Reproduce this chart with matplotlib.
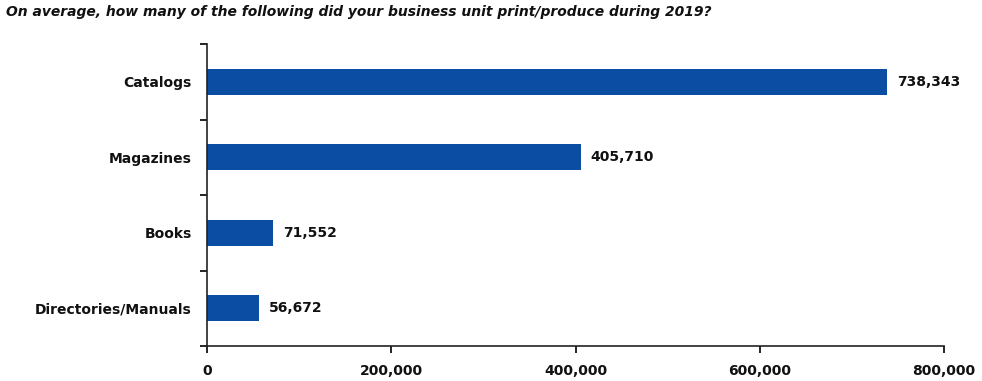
'''
print volume by product type
-----------------------------------------------------------
average number of items each business unit printed or
produced in 2019, as a horizontal bar chart.
'''
# load packages -------------------------------------------
import matplotlib.pyplot as plt
from matplotlib.ticker import FuncFormatter, FixedLocator

# set data ------------------------------------------------
categories = ['Catalogs', 'Magazines', 'Books', 'Directories/Manuals']
values = [738343, 405710, 71552, 56672]
x_ticks = [0, 200000, 400000, 600000, 800000]

title = ('On average, how many of the following did your '
         'business unit print/produce during 2019?')

# plot data -----------------------------------------------
plt.rcParams['font.family'] = ['DejaVu Sans']

fig = plt.figure(figsize=(9.82, 3.81), dpi=100)
ax = fig.add_axes([207 / 982, 1 - 346 / 381, 737 / 982, 302 / 381])

bar_color = '#0a4da2'
pos = list(range(len(categories)))[::-1]
ax.barh(pos, values, height=0.35, color=bar_color)

# value labels at bar ends:
for p, v in zip(pos, values):
    ax.annotate(f'{v:,}', (v, p), xytext=(7, 0),
                textcoords='offset points', va='center', ha='left',
                fontsize=10, fontweight='bold', color='#111111')

# axes limits and ticks:
ax.set_xlim(0, 800000)
ax.set_ylim(-0.5, len(categories) - 0.5)
ax.set_xticks(x_ticks)
ax.xaxis.set_major_formatter(FuncFormatter(lambda x, _: f'{int(x):,}'))

# category labels centered, ticks on boundaries:
ax.yaxis.set_major_locator(FixedLocator([p - 0.5 for p in range(5)]))
ax.yaxis.set_major_formatter(FuncFormatter(lambda y, _: ''))
ax.yaxis.set_minor_locator(FixedLocator(pos))
ax.set_yticklabels(categories, minor=True)
ax.tick_params(axis='y', which='minor', length=0, pad=11)
ax.tick_params(axis='y', which='major', length=5, width=1.2, direction='out')
ax.tick_params(axis='x', length=5, width=1.2, direction='out', pad=8)

for lab in ax.get_xticklabels() + ax.get_yticklabels(minor=True):
    lab.set_fontsize(10)
    lab.set_fontweight('bold')
    lab.set_color('#111111')

for side in ['top', 'right']:
    ax.spines[side].set_visible(False)
for side in ['left', 'bottom']:
    ax.spines[side].set_linewidth(1.2)
    ax.spines[side].set_color('#222222')

fig.text(6 / 982, 1 - 12 / 381, title, fontsize=10, fontweight='bold',
         fontstyle='italic', va='center', ha='left', color='#111111')

# save plot:
fig.savefig('out.png', dpi=100)

# finish routine ------------------------------------------
